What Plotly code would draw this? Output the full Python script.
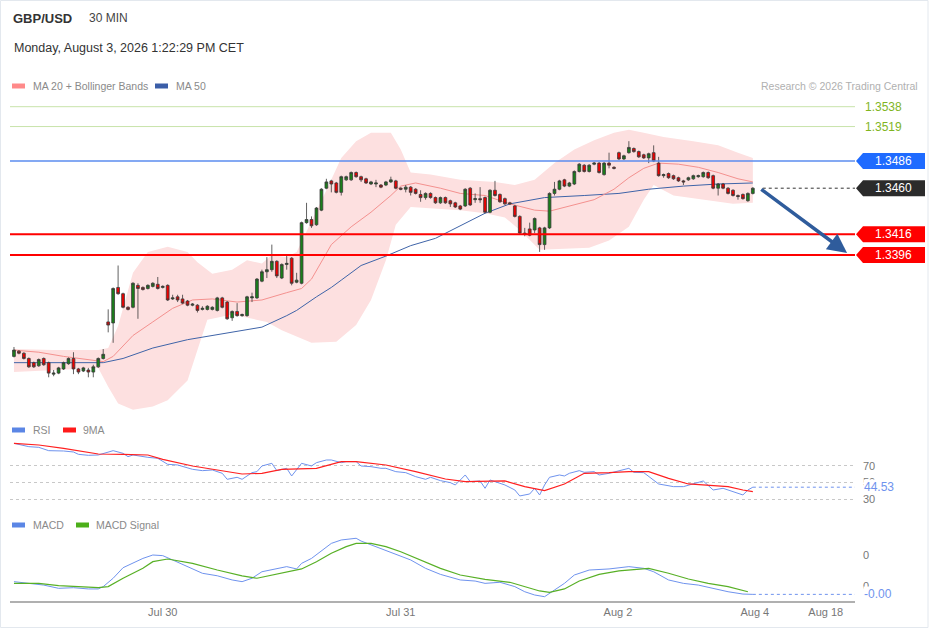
import plotly.graph_objects as go

# Candles, 30 min, index 0..149
open_ = [1.3299, 1.3304, 1.3302, 1.3297, 1.3293, 1.3290, 1.3297, 1.3293, 1.3282, 1.3283,
         1.3287, 1.3292, 1.3297, 1.3287, 1.3285, 1.3286, 1.3284, 1.3289, 1.3297, 1.3332,
         1.3331, 1.3365, 1.3359, 1.3346, 1.3346, 1.3367, 1.3365, 1.3364, 1.3366, 1.3368,
         1.3365, 1.3367, 1.3354, 1.3356, 1.3354, 1.3352, 1.3348, 1.3348, 1.3344, 1.3344,
         1.3344, 1.3343, 1.3355, 1.3351, 1.3336, 1.3342, 1.3338, 1.3338, 1.3355, 1.3355,
         1.3371, 1.3380, 1.3382, 1.3390, 1.3374, 1.3387, 1.3393, 1.3370, 1.3369, 1.3427,
         1.3430, 1.3425, 1.3439, 1.3460, 1.3467, 1.3465, 1.3456, 1.3468, 1.3468, 1.3475,
         1.3471, 1.3469, 1.3464, 1.3464, 1.3463, 1.3463, 1.3466, 1.3467, 1.3460, 1.3459,
         1.3461, 1.3459, 1.3454, 1.3451, 1.3455, 1.3451, 1.3446, 1.3451, 1.3448, 1.3446,
         1.3443, 1.3443, 1.3460, 1.3449, 1.3450, 1.3451, 1.3437, 1.3458, 1.3454, 1.3450,
         1.3446, 1.3443, 1.3433, 1.3417, 1.3421, 1.3420, 1.3422, 1.3406, 1.3422, 1.3455,
         1.3459, 1.3468, 1.3462, 1.3464, 1.3476, 1.3482, 1.3476, 1.3483, 1.3484, 1.3473,
         1.3484, 1.3480, 1.3494, 1.3488, 1.3494, 1.3498, 1.3495, 1.3492, 1.3489, 1.3494,
         1.3484, 1.3472, 1.3474, 1.3472, 1.3470, 1.3467, 1.3468, 1.3469, 1.3471, 1.3471,
         1.3475, 1.3472, 1.3460, 1.3464, 1.3460, 1.3458, 1.3453, 1.3454, 1.3448, 1.3455]
high = [1.3308, 1.3305, 1.3303, 1.3298, 1.3294, 1.3297, 1.3298, 1.3294, 1.3286, 1.3289,
        1.3294, 1.3298, 1.3303, 1.3288, 1.3289, 1.3288, 1.3291, 1.3298, 1.3306, 1.3344,
        1.3365, 1.3386, 1.3360, 1.3347, 1.3370, 1.3369, 1.3366, 1.3368, 1.3370, 1.3375,
        1.3367, 1.3368, 1.3358, 1.3358, 1.3358, 1.3353, 1.3350, 1.3349, 1.3347, 1.3348,
        1.3347, 1.3356, 1.3356, 1.3352, 1.3343, 1.3350, 1.3340, 1.3357, 1.3360, 1.3374,
        1.3382, 1.3394, 1.3406, 1.3391, 1.3388, 1.3396, 1.3394, 1.3379, 1.3428, 1.3446,
        1.3433, 1.3442, 1.3460, 1.3469, 1.3468, 1.3466, 1.3472, 1.3472, 1.3476, 1.3476,
        1.3472, 1.3470, 1.3467, 1.3468, 1.3464, 1.3467, 1.3471, 1.3468, 1.3461, 1.3463,
        1.3462, 1.3460, 1.3458, 1.3456, 1.3456, 1.3452, 1.3452, 1.3452, 1.3449, 1.3447,
        1.3444, 1.3460, 1.3461, 1.3455, 1.3461, 1.3452, 1.3459, 1.3467, 1.3455, 1.3451,
        1.3447, 1.3444, 1.3434, 1.3422, 1.3427, 1.3432, 1.3423, 1.3423, 1.3456, 1.3466,
        1.3468, 1.3469, 1.3466, 1.3477, 1.3484, 1.3483, 1.3483, 1.3485, 1.3485, 1.3485,
        1.3494, 1.3481, 1.3495, 1.3492, 1.3505, 1.3499, 1.3496, 1.3493, 1.3494, 1.3501,
        1.3490, 1.3474, 1.3475, 1.3473, 1.3471, 1.3468, 1.3471, 1.3473, 1.3473, 1.3476,
        1.3476, 1.3473, 1.3465, 1.3465, 1.3461, 1.3459, 1.3454, 1.3455, 1.3456, 1.3461]
low = [1.3298, 1.3301, 1.3296, 1.3288, 1.3288, 1.3289, 1.3290, 1.3279, 1.3280, 1.3282,
       1.3286, 1.3291, 1.3282, 1.3282, 1.3284, 1.3279, 1.3279, 1.3288, 1.3296, 1.3322,
       1.3312, 1.3358, 1.3345, 1.3343, 1.3345, 1.3335, 1.3362, 1.3363, 1.3365, 1.3363,
       1.3364, 1.3352, 1.3353, 1.3351, 1.3349, 1.3347, 1.3347, 1.3341, 1.3343, 1.3343,
       1.3343, 1.3342, 1.3345, 1.3334, 1.3333, 1.3337, 1.3337, 1.3337, 1.3351, 1.3354,
       1.3370, 1.3374, 1.3380, 1.3374, 1.3373, 1.3382, 1.3367, 1.3369, 1.3368, 1.3426,
       1.3422, 1.3424, 1.3438, 1.3459, 1.3456, 1.3455, 1.3453, 1.3467, 1.3467, 1.3470,
       1.3466, 1.3464, 1.3463, 1.3461, 1.3460, 1.3462, 1.3465, 1.3459, 1.3458, 1.3456,
       1.3453, 1.3454, 1.3447, 1.3449, 1.3450, 1.3445, 1.3445, 1.3445, 1.3442, 1.3441,
       1.3439, 1.3442, 1.3443, 1.3446, 1.3446, 1.3436, 1.3436, 1.3452, 1.3446, 1.3444,
       1.3444, 1.3432, 1.3416, 1.3414, 1.3414, 1.3417, 1.3399, 1.3401, 1.3421, 1.3453,
       1.3458, 1.3461, 1.3461, 1.3463, 1.3475, 1.3475, 1.3475, 1.3482, 1.3474, 1.3472,
       1.3479, 1.3478, 1.3487, 1.3487, 1.3493, 1.3494, 1.3489, 1.3488, 1.3484, 1.3485,
       1.3471, 1.3470, 1.3469, 1.3468, 1.3466, 1.3463, 1.3467, 1.3468, 1.3470, 1.3470,
       1.3469, 1.3459, 1.3453, 1.3459, 1.3454, 1.3452, 1.3449, 1.3449, 1.3447, 1.3454]
close = [1.3305, 1.3302, 1.3297, 1.3289, 1.3289, 1.3296, 1.3291, 1.3283, 1.3283, 1.3288,
         1.3293, 1.3297, 1.3287, 1.3284, 1.3288, 1.3284, 1.3289, 1.3297, 1.3301, 1.3329,
         1.3364, 1.3359, 1.3346, 1.3344, 1.3369, 1.3364, 1.3363, 1.3367, 1.3369, 1.3364,
         1.3366, 1.3353, 1.3355, 1.3353, 1.3350, 1.3348, 1.3349, 1.3343, 1.3345, 1.3347,
         1.3346, 1.3355, 1.3346, 1.3335, 1.3342, 1.3338, 1.3339, 1.3356, 1.3356, 1.3373,
         1.3380, 1.3382, 1.3390, 1.3376, 1.3387, 1.3388, 1.3369, 1.3372, 1.3427, 1.3430,
         1.3424, 1.3441, 1.3459, 1.3466, 1.3464, 1.3456, 1.3471, 1.3471, 1.3475, 1.3471,
         1.3468, 1.3465, 1.3466, 1.3465, 1.3461, 1.3466, 1.3468, 1.3460, 1.3459, 1.3461,
         1.3456, 1.3455, 1.3451, 1.3455, 1.3451, 1.3446, 1.3451, 1.3446, 1.3445, 1.3442,
         1.3440, 1.3459, 1.3444, 1.3450, 1.3449, 1.3437, 1.3458, 1.3453, 1.3447, 1.3445,
         1.3445, 1.3433, 1.3417, 1.3416, 1.3415, 1.3431, 1.3406, 1.3422, 1.3455, 1.3459,
         1.3467, 1.3462, 1.3465, 1.3476, 1.3483, 1.3476, 1.3482, 1.3484, 1.3475, 1.3484,
         1.3482, 1.3479, 1.3488, 1.3491, 1.3499, 1.3495, 1.3490, 1.3489, 1.3493, 1.3486,
         1.3472, 1.3473, 1.3470, 1.3469, 1.3467, 1.3466, 1.3470, 1.3472, 1.3472, 1.3475,
         1.3470, 1.3460, 1.3464, 1.3460, 1.3455, 1.3453, 1.3452, 1.3450, 1.3455, 1.3460]

# Bollinger bands / moving averages (sampled off the chart)
bb_up_idx = [0, 8, 17, 19, 21, 24, 27, 31, 35, 37, 40, 44, 47, 50, 52, 55, 57, 60, 63, 66, 69, 72,
             76, 78, 80, 84, 90, 97, 101, 105, 109, 113, 117, 121, 124, 127, 131, 137, 142, 146, 149]
bb_up = [1.3306, 1.3305, 1.3305, 1.3307, 1.3328, 1.3379, 1.3399, 1.3404, 1.3399, 1.3389, 1.3378,
         1.3382, 1.3391, 1.3388, 1.3396, 1.3394, 1.3399, 1.3428, 1.3458, 1.3489, 1.3505, 1.3513,
         1.3513, 1.3497, 1.3475, 1.3473, 1.3468, 1.3466, 1.3463, 1.3468, 1.3484, 1.3497, 1.3506,
         1.3513, 1.3516, 1.3513, 1.3509, 1.3505, 1.3501, 1.3494, 1.3489]
bb_lo_idx = [0, 8, 17, 19, 21, 24, 28, 31, 35, 37, 39, 44, 51, 54, 60, 65, 69, 72, 75, 77, 80, 90,
             95, 99, 102, 106, 111, 116, 120, 124, 127, 129, 133, 139, 145, 149]
bb_lo = [1.3284, 1.3286, 1.3288, 1.3270, 1.3254, 1.3248, 1.3251, 1.3257, 1.3276, 1.3305, 1.3334,
         1.3339, 1.3332, 1.3324, 1.3312, 1.3313, 1.3329, 1.3353, 1.3391, 1.3425, 1.3442, 1.3439,
         1.3436, 1.3432, 1.3420, 1.3401, 1.3402, 1.3403, 1.3410, 1.3423, 1.3449, 1.3463, 1.3453,
         1.3449, 1.3445, 1.3446]
ma20_idx = [0, 5, 10, 15, 18, 20, 24, 28, 32, 36, 40, 45, 50, 55, 58, 60, 64, 68, 72, 76, 78, 81,
            86, 90, 95, 100, 105, 108, 112, 117, 121, 124, 127, 130, 134, 138, 142, 146, 149]
ma20 = [1.3305, 1.3303, 1.3299, 1.3296, 1.3294, 1.3299, 1.3319, 1.3332, 1.3345, 1.3353, 1.3354,
        1.3351, 1.3353, 1.3360, 1.3364, 1.3373, 1.3406, 1.3423, 1.3437, 1.3453, 1.3462, 1.3465,
        1.3460, 1.3455, 1.3453, 1.3445, 1.3439, 1.3438, 1.3443, 1.3449, 1.3459, 1.3470, 1.3479,
        1.3484, 1.3483, 1.3480, 1.3475, 1.3469, 1.3466]
ma50_idx = [0, 18, 22, 28, 35, 44, 50, 55, 57, 61, 64, 66, 70, 75, 80, 85, 90, 95, 100, 107, 115,
            122, 128, 135, 142, 149]
ma50 = [1.3293, 1.3293, 1.3297, 1.3307, 1.3315, 1.3322, 1.3327, 1.3338, 1.3343, 1.3356, 1.3365,
        1.3372, 1.3386, 1.3395, 1.3405, 1.3412, 1.3424, 1.3436, 1.3445, 1.3451, 1.3453, 1.3455,
        1.3459, 1.3462, 1.3464, 1.3465]

# RSI + 9MA
rsi_idx = [0, 3, 5, 7, 10, 12, 13, 15, 17, 18, 20, 22, 23, 24, 26, 27, 29, 31, 33, 34, 36, 38, 40,
           42, 43, 45, 46, 48, 49, 50, 52, 53, 55, 56, 58, 60, 61, 63, 64, 66, 67, 69, 70, 72, 74,
           75, 77, 79, 81, 83, 84, 86, 88, 89, 91, 92, 94, 95, 96, 98, 99, 101, 102, 104, 105, 106,
           107, 108, 110, 111, 112, 114, 115, 117, 118, 120, 122, 124, 125, 127, 130, 131, 133, 135,
           137, 139, 141, 143, 145, 147, 148, 149]
rsi = [97.2, 93.2, 92.4, 88.4, 88.0, 86.8, 84.0, 82.8, 83.2, 85.2, 88.4, 85.2, 81.2, 83.2, 81.2,
       80.4, 79.2, 72.0, 71.2, 69.2, 66.0, 64.4, 65.2, 61.2, 54.0, 56.4, 54.0, 62.0, 63.2, 70.0,
       73.2, 64.4, 67.2, 58.0, 73.2, 70.0, 74.0, 77.2, 77.2, 74.0, 75.2, 75.2, 70.0, 69.2, 67.2,
       67.2, 63.2, 62.0, 57.2, 54.0, 56.4, 52.4, 50.0, 47.2, 59.2, 51.2, 52.0, 43.2, 53.2, 49.2,
       47.2, 41.2, 34.0, 36.4, 43.2, 35.2, 47.2, 56.4, 59.2, 58.0, 61.2, 64.4, 62.4, 63.2, 59.2,
       61.2, 64.4, 67.2, 62.4, 62.0, 48.4, 47.2, 45.2, 45.2, 48.4, 52.0, 41.2, 43.2, 39.2, 35.2,
       41.2, 44.53]
rsi_ma_idx = [0, 5, 10, 17, 22, 27, 30, 36, 41, 46, 50, 54, 61, 66, 69, 75, 81, 87, 91, 95, 99,
              103, 107, 111, 115, 120, 124, 128, 132, 136, 140, 144, 147, 149]
rsi_ma = [97.2, 95.2, 91.2, 84.4, 84.0, 83.2, 78.0, 70.0, 65.2, 60.4, 61.2, 66.0, 67.2, 75.2, 75.2,
          71.2, 63.2, 54.4, 51.2, 51.2, 52.0, 45.2, 40.4, 48.4, 61.2, 62.0, 63.2, 63.2, 55.2, 48.4,
          47.2, 45.2, 41.2, 39.2]

# MACD + signal
macd_idx = [0, 3, 6, 9, 12, 15, 17, 18, 20, 22, 24, 26, 28, 30, 32, 35, 38, 41, 44, 46, 48, 50, 53,
            55, 57, 58, 60, 62, 64, 66, 69, 70, 73, 76, 80, 83, 86, 90, 93, 95, 98, 101, 103, 105,
            107, 109, 111, 113, 116, 120, 124, 127, 129, 132, 135, 138, 141, 144, 147, 149]
macd = [0.00028, 0.00017, 0.00006, -0.00015, -0.00011, -0.00019, -0.00019, -0.00004, 0.00050,
        0.00118, 0.00146, 0.00178, 0.00200, 0.00196, 0.00168, 0.00125, 0.00082, 0.00066, 0.00039,
        0.00028, 0.00050, 0.00092, 0.00114, 0.00125, 0.00110, 0.00146, 0.00178, 0.00226, 0.00275,
        0.00297, 0.00308, 0.00290, 0.00254, 0.00221, 0.00168, 0.00114, 0.00075, 0.00039, 0.00032,
        0.00017, 0.00024, -0.00004, -0.00037, -0.00058, -0.00069, -0.00026, 0.00017, 0.00071,
        0.00103, 0.00110, 0.00125, 0.00114, 0.00092, 0.00039, 0.00017, 0.00006, -0.00015,
        -0.00037, -0.00052, -0.00054]
signal_idx = [0, 5, 9, 13, 17, 19, 22, 26, 28, 31, 36, 41, 46, 49, 52, 56, 58, 61, 64, 67, 69, 72,
              75, 78, 82, 86, 90, 95, 100, 103, 106, 108, 111, 114, 118, 122, 126, 128, 132, 136,
              140, 144, 148]
signal = [0.00017, 0.00017, 0.00002, -0.00004, -0.00011, -0.00004, 0.00050, 0.00114, 0.00157,
          0.00174, 0.00146, 0.00103, 0.00065, 0.00050, 0.00071, 0.00097, 0.00110, 0.00157, 0.00211,
          0.00254, 0.00275, 0.00275, 0.00254, 0.00221, 0.00168, 0.00114, 0.00071, 0.00043, 0.00024,
          -0.00004, -0.00032, -0.00041, -0.00019, 0.00032, 0.00075, 0.00097, 0.00110, 0.00114,
          0.00082, 0.00045, 0.00017, -0.00004, -0.00037]

# key levels
resist_green = [1.3538, 1.3519]
pivot = 1.3486
supports = [1.3416, 1.3396]
last_price = 1.3460
forecast_x = [150.4, 168.0]
forecast_y = [1.3460, 1.3398]

tick_pos = [30.0, 78.0, 121.8, 149.4, 163.7]
tick_text = ["Jul 30", "Jul 31", "Aug 2", "Aug 4", "Aug 18"]

x = list(range(len(close)))
X_MIN, X_MAX = -0.8, 169.6
PRICE_RANGE = [1.32429, 1.35492]

# pixel helpers for layout bits (plot area: 10..855 x 95..601)
def px(X):
    return (X - 10) / 845.0

def py(Y):
    return (601 - Y) / 506.0

FONT = "Liberation Sans, Arial, sans-serif"

fig = go.Figure()

# band + MAs sit on the base price axis, candles on an overlay so they draw on top
fig.add_trace(go.Scatter(x=bb_up_idx, y=bb_up, mode="lines", line=dict(width=0, color="rgba(0,0,0,0)"),
                         hoverinfo="skip", showlegend=False))
fig.add_trace(go.Scatter(x=bb_lo_idx, y=bb_lo, mode="lines", line=dict(width=0, color="rgba(0,0,0,0)"),
                         fill="tonexty", fillcolor="#fde0e0", hoverinfo="skip", showlegend=False))
fig.add_trace(go.Scatter(x=ma50_idx, y=ma50, mode="lines", line=dict(width=1, color="#3f64a8"),
                         hoverinfo="skip", showlegend=False))
fig.add_trace(go.Scatter(x=ma20_idx, y=ma20, mode="lines", line=dict(width=1, color="#f4918f"),
                         hoverinfo="skip", showlegend=False))

fig.add_trace(go.Candlestick(
    x=x, open=open_, high=high, low=low, close=close, yaxis="y4",
    increasing=dict(line=dict(color="#3a3a3a", width=0.8), fillcolor="#1a7f1a"),
    decreasing=dict(line=dict(color="#3a3a3a", width=0.8), fillcolor="#ee0000"),
    whiskerwidth=0, hoverinfo="skip", showlegend=False))

fig.add_trace(go.Scatter(x=rsi_idx, y=rsi, mode="lines", line=dict(width=1, color="#6f93ee"),
                         yaxis="y2", hoverinfo="skip", showlegend=False))
fig.add_trace(go.Scatter(x=rsi_ma_idx, y=rsi_ma, mode="lines", line=dict(width=1.2, color="#ff2020"),
                         yaxis="y2", hoverinfo="skip", showlegend=False))

fig.add_trace(go.Scatter(x=macd_idx, y=macd, mode="lines", line=dict(width=1, color="#6f93ee"),
                         yaxis="y3", hoverinfo="skip", showlegend=False))
fig.add_trace(go.Scatter(x=signal_idx, y=signal, mode="lines", line=dict(width=1.2, color="#58b026"),
                         yaxis="y3", hoverinfo="skip", showlegend=False))

shapes = []
annotations = []

# green resistance lines with plain labels
for lv in resist_green:
    shapes.append(dict(type="line", xref="paper", yref="y", x0=0, x1=1, y0=lv, y1=lv,
                       line=dict(color="#c8e3aa", width=1)))
    annotations.append(dict(xref="paper", yref="y", x=1, y=lv, text=f"{lv:.4f}", showarrow=False,
                            xanchor="left", xshift=8, font=dict(color="#7fb51f", size=12, family=FONT)))

def tag(level, color, text_color="white"):
    shapes.append(dict(type="path", xref="paper", yref="y", xsizemode="pixel", ysizemode="pixel",
                       xanchor=1, yanchor=level,
                       path="M 1 0 L 8 8 L 70 8 L 70 -8 L 8 -8 Z",
                       fillcolor=color, line=dict(width=0)))
    annotations.append(dict(xref="paper", yref="y", x=1, y=level, text=f"{level:.4f}", showarrow=False,
                            xanchor="center", xshift=38, font=dict(color=text_color, size=12, family=FONT)))

shapes.append(dict(type="line", xref="paper", yref="y", x0=0, x1=1, y0=pivot, y1=pivot,
                   line=dict(color="#5b8def", width=1.5)))
tag(pivot, "#1f6bff")
for lv in supports:
    shapes.append(dict(type="line", xref="paper", yref="y", x0=0, x1=1, y0=lv, y1=lv,
                       line=dict(color="#ff0000", width=2)))
    tag(lv, "#ff0000")

shapes.append(dict(type="line", xref="x", yref="y", x0=len(close) + 1, x1=X_MAX, y0=last_price, y1=last_price,
                   line=dict(color="#333333", width=1, dash="dot")))
tag(last_price, "#2b2b2b")

# forecast arrow
annotations.append(dict(xref="x", yref="y", axref="x", ayref="y", x=forecast_x[1], y=forecast_y[1],
                        ax=forecast_x[0], ay=forecast_y[0], text="", showarrow=True, arrowhead=2,
                        arrowsize=1.1, arrowwidth=3.5, arrowcolor="#2f5c9c"))

# last value markers in RSI / MACD panels
shapes.append(dict(type="line", xref="x", yref="y2", x0=rsi_idx[-1], x1=X_MAX, y0=rsi[-1], y1=rsi[-1],
                   line=dict(color="#6f93ee", width=1, dash="dot")))
annotations.append(dict(xref="paper", yref="y2", x=1, y=rsi[-1], text=f"{rsi[-1]:.2f}", showarrow=False,
                        xanchor="left", xshift=8, bgcolor="white", borderpad=0,
                        font=dict(color="#6f93ee", size=12, family=FONT)))
shapes.append(dict(type="line", xref="x", yref="y3", x0=macd_idx[-1], x1=X_MAX, y0=macd[-1], y1=macd[-1],
                   line=dict(color="#6f93ee", width=1, dash="dot")))
annotations.append(dict(xref="paper", yref="y3", x=1, y=macd[-1], text=f"{macd[-1]:.2f}", showarrow=False,
                        xanchor="left", xshift=8, bgcolor="white", borderpad=0,
                        font=dict(color="#6f93ee", size=12, family=FONT)))

# header texts
def text(X, Y, s, size=12, color="#333333", anchor="left"):
    annotations.append(dict(xref="paper", yref="paper", x=px(X), y=py(Y), text=s, showarrow=False,
                            xanchor=anchor, yanchor="middle", font=dict(size=size, color=color, family=FONT)))

def swatch(X, Y, color):
    shapes.append(dict(type="rect", xref="paper", yref="paper", x0=px(X), x1=px(X + 13),
                       y0=py(Y + 2.5), y1=py(Y - 2.5), fillcolor=color, line=dict(width=0)))

text(11, 18, "<b>GBP/USD</b>", 13, "#333333")
text(87, 18, "30 MIN", 12, "#444444")
text(12, 48, "Monday, August 3, 2026 1:22:29 PM CET", 12.5, "#333333")

swatch(12, 86, "#ff8a8a")
text(31, 86, "MA 20 + Bollinger Bands", 10.5, "#8a8a8a")
swatch(155, 86, "#3b5ea8")
text(174, 86, "MA 50", 10.5, "#8a8a8a")
text(920, 86, "Research © 2026 Trading Central", 10.5, "#b0b0b0", anchor="right")

swatch(12, 430, "#5b86e5")
text(31, 430, "RSI", 10.5, "#8a8a8a")
swatch(63, 430, "#ff1a1a")
text(81, 430, "9MA", 10.5, "#8a8a8a")

swatch(12, 525, "#5b86e5")
text(31, 525, "MACD", 10.5, "#8a8a8a")
swatch(76, 525, "#4caf1a")
text(94, 525, "MACD Signal", 10.5, "#8a8a8a")

# outer frame
shapes.append(dict(type="rect", xref="paper", yref="paper", x0=px(0.5), x1=px(928), y0=py(627.5), y1=py(0.5),
                   line=dict(color="#e3e8ee", width=1), fillcolor="rgba(0,0,0,0)"))

fig.update_layout(
    width=929, height=629,
    margin=dict(l=10, r=74, t=95, b=28),
    paper_bgcolor="white", plot_bgcolor="white",
    font=dict(family=FONT, color="#777777"),
    showlegend=False,
    boxgap=0.2,
    xaxis=dict(range=[X_MIN, X_MAX], anchor="y3", tickvals=tick_pos, ticktext=tick_text,
               showgrid=False, zeroline=False, showline=True, linecolor="#b0b0b0", linewidth=2,
               ticks="", tickfont=dict(size=11, color="#777777"), rangeslider=dict(visible=False)),
    yaxis=dict(domain=[py(415), 1.0], range=PRICE_RANGE, visible=False, fixedrange=True),
    yaxis4=dict(overlaying="y", range=PRICE_RANGE, visible=False, fixedrange=True),
    yaxis2=dict(domain=[py(506), py(438)], range=[21.95, 103.6], anchor="x", side="right",
                tickvals=[30, 50, 70], showgrid=True, griddash="dot", gridcolor="#c8c8c8", gridwidth=1,
                zeroline=False, ticks="", ticklabelstandoff=7, tickfont=dict(size=11, color="#777777")),
    yaxis3=dict(domain=[0, py(533)], range=[-0.000968, 0.00342], anchor="x", side="right",
                tickvals=[0, 0.002], tickformat=".0f", showgrid=False, zeroline=False, ticks="",
                ticklabelstandoff=7, tickfont=dict(size=11, color="#777777")),
    shapes=shapes,
    annotations=annotations,
)

fig.write_html("out.html", config={"displayModeBar": False},
               post_script="document.body.style.margin='0px';document.body.style.overflow='hidden';")
